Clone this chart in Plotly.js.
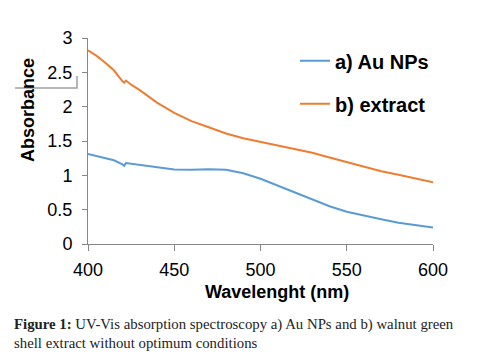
<!DOCTYPE html>
<html>
<head>
<meta charset="utf-8">
<script src="https://cdn.plot.ly/plotly-3.0.1.min.js"></script>
<style>html,body{margin:0;padding:0;background:#fff;}#chart{width:480px;height:361px;}</style>
</head>
<body>
<div id="chart"></div>
<script>
var wavelength = [400,405,410,415,420,421,422,425,430,440,450,460,470,480,490,500,510,520,530,540,550,560,570,580,590,600];
var auNPs =      [1.31,1.28,1.25,1.22,1.16,1.14,1.18,1.17,1.15,1.11,1.085,1.08,1.09,1.08,1.03,0.95,0.85,0.74,0.65,0.55,0.47,0.41,0.36,0.31,0.27,0.24];
var extract =    [2.82,2.74,2.64,2.53,2.37,2.35,2.38,2.32,2.24,2.06,1.91,1.79,1.70,1.61,1.54,1.49,1.44,1.38,1.33,1.26,1.19,1.12,1.06,1.01,0.955,0.90];
var seriesNames = ['a) Au NPs', 'b) extract'];
var xTicks = [400,450,500,550,600];
var yTicks = [0,0.5,1,1.5,2,2.5,3];
var yTickText = ['0','0.5','1','1.5','2','2.5','3'];

var traces = [
  {x: wavelength, y: auNPs, name: seriesNames[0], legendgroup: 'a', type: 'scatter', mode: 'lines',
   line: {color: '#5B9BD5', width: 2}},
  {x: wavelength, y: extract, name: seriesNames[1], legendgroup: 'b', type: 'scatter', mode: 'lines',
   line: {color: '#ED7D31', width: 2}}
];

var axisColor = '#868686';
var layout = {
  width: 480, height: 361,
  margin: {l: 88, r: 47, t: 38, b: 117},
  paper_bgcolor: '#fff', plot_bgcolor: '#fff',
  font: {family: 'Liberation Sans, Arial, sans-serif', color: '#000'},
  showlegend: true,
  legend: {x: 0.6, y: 0.984, xanchor: 'left', yanchor: 'top', bgcolor: 'rgba(0,0,0,0)',
           font: {size: 20, family: 'Liberation Sans, Arial, sans-serif', weight: 'bold', color: '#000'},
           traceorder: 'grouped', tracegroupgap: 14},
  xaxis: {range: [400, 600], tickvals: xTicks, ticktext: xTicks.map(String),
          showgrid: false, zeroline: false, showline: true, linecolor: axisColor, linewidth: 1,
          ticks: 'outside', ticklen: 6, tickcolor: axisColor, ticklabelstandoff: 3,
          tickfont: {size: 18, color: '#000'}},
  yaxis: {range: [0, 3], tickvals: yTicks, ticktext: yTickText,
          showgrid: false, zeroline: false, showline: true, linecolor: axisColor, linewidth: 1,
          ticks: 'outside', ticklen: 5, tickcolor: axisColor, ticklabelstandoff: 6,
          tickfont: {size: 18, color: '#000'}},
  annotations: [
    {text: '<b>Wavelenght (nm)</b>', xref: 'paper', yref: 'paper', x: 0.548, y: -0.233,
     xanchor: 'center', yanchor: 'middle', showarrow: false, font: {size: 18, color: '#000'}},
    {text: '<b>Absorbance</b>', xref: 'paper', yref: 'paper', x: -0.174, y: 0.65, textangle: -90,
     xanchor: 'center', yanchor: 'middle', showarrow: false, font: {size: 18, color: '#000'}},
    {text: '<b>Figure 1:</b> UV-Vis absorption spectroscopy a) Au NPs and b) walnut green<br>shell extract without optimum conditions',
     xref: 'paper', yref: 'paper', x: -0.2203, y: -0.342, xanchor: 'left', yanchor: 'top', align: 'left',
     showarrow: false, font: {size: 14.8, family: 'Liberation Serif, Times New Roman, serif', color: '#222'}}
  ],
  shapes: [
    {type: 'path', xref: 'paper', yref: 'paper', path: 'M -0.2116 0.757 L -0.0319 0.757 L -0.0319 0.8155',
     line: {color: '#a0a0a0', width: 1.5}}
  ]
};

Plotly.newPlot('chart', traces, layout, {displayModeBar: false, staticPlot: true});
</script>
</body>
</html>
